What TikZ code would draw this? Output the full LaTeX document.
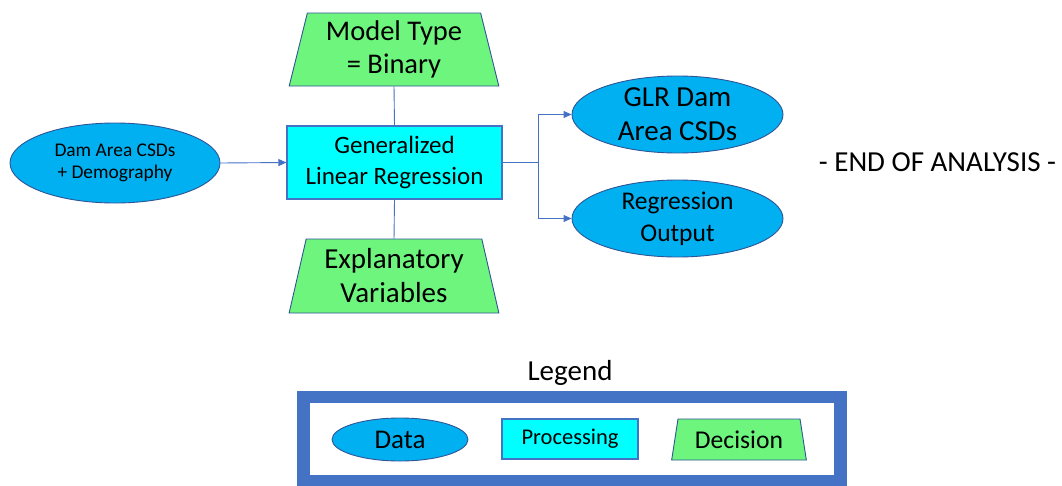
\documentclass[tikz,border=0pt]{standalone}
\usepackage{fontspec}
\setmainfont{Carlito}
\usetikzlibrary{shapes.geometric,arrows.meta}
\definecolor{datafill}{RGB}{0,176,240}
\definecolor{shapeline}{RGB}{47,85,151}
\definecolor{procfill}{RGB}{0,255,255}
\definecolor{decfill}{RGB}{110,245,125}
\definecolor{conn}{RGB}{68,114,196}
\tikzset{
  datanode/.style={ellipse, draw=shapeline, fill=datafill, line width=0.9pt, inner sep=0pt, align=center},
  procnode/.style={rectangle, draw=conn, fill=procfill, line width=1.2pt, inner sep=0pt, align=center},
  decnode/.style={trapezium, trapezium stretches=true, trapezium left angle=76, trapezium right angle=76, draw=shapeline, fill=decfill, line width=0.9pt, inner sep=0pt, align=center},
  connline/.style={draw=conn, line width=0.9pt},
  connarrow/.style={connline, -{Triangle[length=8pt,width=7pt]}},
  fs/.style n args={2}{font=\fontsize{#1}{#2}\selectfont}
}
\begin{document}
\begin{tikzpicture}[x=1pt,y=-1pt]
\useasboundingbox (0,0) rectangle (1062,485);
% main flow
\node[decnode, minimum width=210pt, minimum height=73pt, fs={28.5}{33}] (mt) at (394,49.5) {Model Type\\= Binary};
\node[procnode, minimum width=215pt, minimum height=73pt, fs={25}{31}] (glm) at (394.5,162.5) {Generalized\\Linear Regression};
\node[decnode, minimum width=210pt, minimum height=74pt, fs={29}{34}] (ev) at (394,276) {Explanatory\\Variables};
\node[datanode, minimum width=210pt, minimum height=80pt, fs={19.4}{22}] (in) at (115,163) {Dam Area CSDs\\+ Demography};
\node[datanode, minimum width=211pt, minimum height=77pt, fs={29}{34}] (glr) at (677.5,114.5) {GLR Dam\\Area CSDs};
\node[datanode, minimum width=211pt, minimum height=77pt, fs={25.5}{32}] (reg) at (677.5,218.5) {Regression\\Output};
\node[fs={29}{34}] (end) at (937.5,162) {- END OF ANALYSIS -};
% connectors
\draw[connarrow] (in.east) -- (glm.west);
\draw[connline] (mt.south) -- (glm.north);
\draw[connline] (glm.south) -- (ev.north);
\coordinate (split) at (538,162.5);
\draw[connline] (glm.east) -- (split);
\draw[connarrow] (split) |- (glr.west);
\draw[connarrow] (split) |- (reg.west);
% legend
\node[fs={29}{34}] (legtitle) at (570,373) {Legend};
\node[draw=conn, line width=12.5pt, minimum width=537pt, minimum height=84.5pt, inner sep=0pt] (legbox) at (572,439.25) {};
\node[datanode, minimum width=136pt, minimum height=43pt, fs={27}{30}] (legdata) at (400,439.5) {Data};
\node[procnode, minimum width=136pt, minimum height=40pt, fs={22.5}{26}] (legproc) at (570,439) {Processing};
\node[decnode, trapezium left angle=75.6, trapezium right angle=75.6, minimum width=136pt, minimum height=41pt, fs={25.6}{28}] (legdec) at (739,439.5) {Decision};
\end{tikzpicture}
\end{document}
